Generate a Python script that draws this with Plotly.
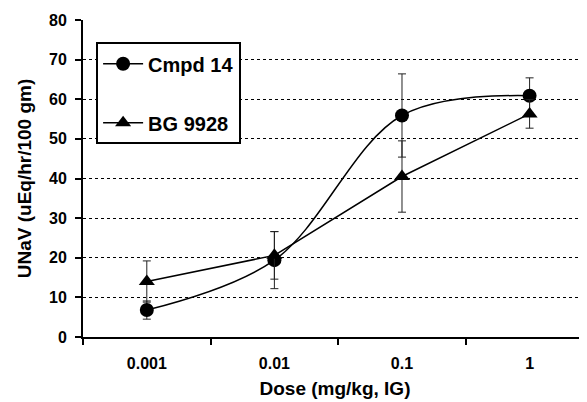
import plotly.graph_objects as go

doses = ["0.001", "0.01", "0.1", "1"]
cmpd14 = [6.8, 19.4, 55.9, 60.9]
cmpd14_err = [2.3, 7.2, 10.5, 4.5]
bg9928 = [14.0, 20.6, 40.5, 56.3]
bg9928_err = [5.2, 6.0, 9.0, 3.6]
y_ticks = [0, 10, 20, 30, 40, 50, 60, 70, 80]

font = "Liberation Sans, Arial, sans-serif"

fig = go.Figure()
fig.add_trace(go.Scatter(
    x=doses, y=cmpd14, name="Cmpd 14", mode="lines+markers",
    line=dict(color="black", width=1.5, shape="spline", smoothing=1),
    marker=dict(symbol="circle", size=14, color="black"),
    error_y=dict(type="data", array=cmpd14_err, color="#222222", thickness=1, width=4),
    legendgroup="a",
))
fig.add_trace(go.Scatter(
    x=doses, y=bg9928, name="BG 9928", mode="lines+markers",
    line=dict(color="black", width=1.5),
    marker=dict(symbol="triangle-up", size=14, color="black"),
    error_y=dict(type="data", array=bg9928_err, color="#222222", thickness=1, width=4),
    legendgroup="b",
))

fig.update_layout(
    width=579, height=394,
    margin=dict(l=75, r=0, t=12, b=65),
    paper_bgcolor="white", plot_bgcolor="white",
    font=dict(family=font, color="black"),
    showlegend=True,
    legend=dict(
        x=0.026, y=0.93, xanchor="left", yanchor="top",
        bgcolor="white", bordercolor="black", borderwidth=2,
        font=dict(size=20, family=font, color="black", weight="bold"),
        tracegroupgap=30, traceorder="grouped",
        itemwidth=40,
    ),
    xaxis=dict(
        type="category", categoryorder="array", categoryarray=doses,
        range=[-0.5, 3.45], automargin=False,
        tickson="boundaries", ticks="outside", ticklen=6, tickwidth=1.5, tickcolor="black",
        showline=True, linecolor="black", linewidth=2,
        showgrid=False, zeroline=False,
        tickfont=dict(size=16, family=font, weight="bold"),
        ticklabelstandoff=11,
        title=dict(text="Dose (mg/kg, IG)", font=dict(size=19, family=font, weight="bold"), standoff=10),
    ),
    yaxis=dict(
        range=[0, 80], tickvals=y_ticks, automargin=False,
        ticks="outside", ticklen=6, tickwidth=1.5, tickcolor="black",
        showline=True, linecolor="black", linewidth=2,
        showgrid=True, gridcolor="black", griddash="dot", gridwidth=1,
        zeroline=False,
        tickfont=dict(size=16, family=font, weight="bold"),
        ticklabelstandoff=5,
        title=dict(text="UNaV (uEq/hr/100 gm)", font=dict(size=19, family=font, weight="bold"), standoff=12),
    ),
)

fig.write_html("out.html")
